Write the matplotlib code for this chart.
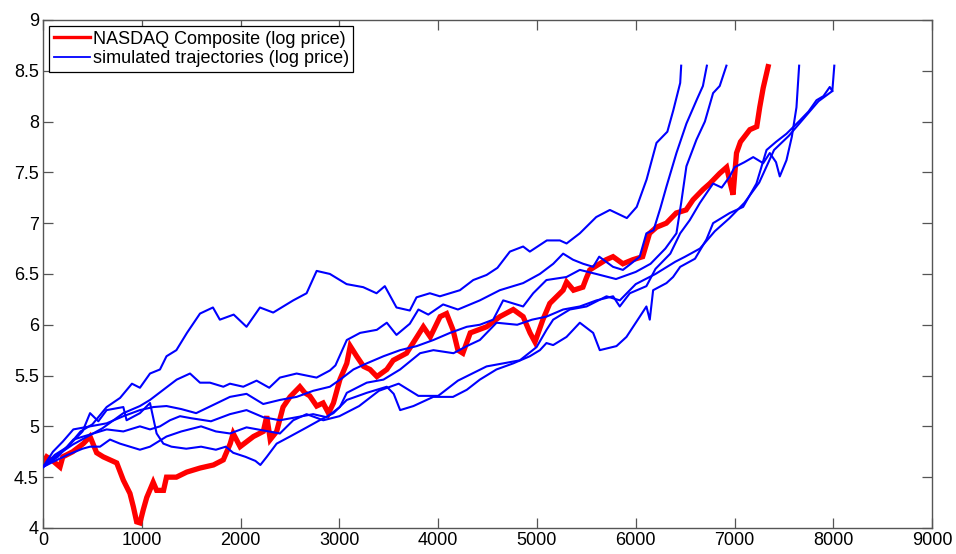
import matplotlib
matplotlib.use("Agg")
import matplotlib.pyplot as plt
from matplotlib.ticker import FormatStrFormatter, MultipleLocator

plt.rcParams["font.family"] = ["Liberation Sans", "DejaVu Sans"]

# NASDAQ Composite, log price (day index, log level)
NASDAQ_X = [0, 37, 100, 172, 200, 300, 408, 476, 543, 610, 678, 746, 813, 880,
            914, 948, 981, 1015, 1050, 1115, 1150, 1220, 1250, 1350, 1455, 1590,
            1725, 1825, 1895, 1925, 1995, 2130, 2230, 2265, 2300, 2365, 2430,
            2500, 2600, 2650, 2700, 2770, 2835, 2890, 2940, 3005, 3075, 3110,
            3175, 3245, 3310, 3380, 3480, 3545, 3680, 3785, 3850, 3920, 4020,
            4085, 4150, 4200, 4250, 4325, 4490, 4625, 4760, 4860, 4930, 4980,
            5060, 5130, 5265, 5300, 5370, 5465, 5500, 5535, 5700, 5770, 5870,
            5970, 6070, 6140, 6210, 6310, 6410, 6510, 6580, 6680, 6750, 6850,
            6920, 6950, 6985, 7020, 7060, 7155, 7225, 7255, 7290, 7340]
NASDAQ_Y = [4.64, 4.70, 4.66, 4.60, 4.70, 4.75, 4.83, 4.90, 4.74, 4.70, 4.67,
            4.64, 4.47, 4.34, 4.21, 4.06, 4.05, 4.18, 4.30, 4.45, 4.37, 4.37,
            4.50, 4.50, 4.55, 4.59, 4.62, 4.67, 4.83, 4.93, 4.80, 4.90, 4.95,
            5.10, 4.87, 4.95, 5.19, 5.29, 5.39, 5.33, 5.30, 5.20, 5.23, 5.13,
            5.23, 5.46, 5.62, 5.79, 5.69, 5.59, 5.56, 5.49, 5.56, 5.65, 5.72,
            5.88, 5.98, 5.88, 6.08, 6.11, 5.95, 5.75, 5.72, 5.92, 5.98, 6.08,
            6.15, 6.08, 5.92, 5.83, 6.05, 6.21, 6.34, 6.42, 6.34, 6.37, 6.46,
            6.54, 6.64, 6.67, 6.60, 6.64, 6.67, 6.90, 6.96, 7.00, 7.10, 7.13,
            7.23, 7.33, 7.39, 7.49, 7.55, 7.42, 7.28, 7.69, 7.80, 7.92, 7.95,
            8.14, 8.33, 8.54]

# simulated log-price paths
SIM1_X = [0, 120, 250, 380, 500, 644, 780, 900, 981, 1083, 1184, 1250, 1350,
          1457, 1589, 1720, 1790, 1930, 2060, 2196, 2330, 2533, 2668, 2770,
          2904, 3073, 3241, 3376, 3460, 3578, 3713, 3781, 3916, 4017, 4220,
          4355, 4490, 4600, 4726, 4860, 4928, 5100, 5232, 5300, 5434, 5600,
          5738, 5910, 6010, 6110, 6210, 6320, 6380, 6450, 6460]
SIM1_Y = [4.60, 4.72, 4.80, 4.95, 5.02, 5.19, 5.28, 5.42, 5.38, 5.52, 5.56,
          5.69, 5.75, 5.92, 6.11, 6.17, 6.05, 6.10, 5.98, 6.17, 6.12, 6.24,
          6.31, 6.53, 6.50, 6.40, 6.37, 6.31, 6.38, 6.17, 6.14, 6.27, 6.31,
          6.28, 6.34, 6.44, 6.49, 6.56, 6.72, 6.77, 6.72, 6.83, 6.83, 6.80,
          6.90, 7.06, 7.13, 7.05, 7.16, 7.43, 7.79, 7.90, 8.11, 8.38, 8.55]

SIM2_X = [0, 150, 300, 450, 600, 813, 981, 1083, 1218, 1353, 1488, 1589, 1690,
          1825, 1892, 2027, 2162, 2290, 2398, 2567, 2769, 2904, 2960, 3075,
          3210, 3379, 3480, 3578, 3713, 3800, 3900, 4050, 4200, 4422, 4624,
          4860, 5029, 5165, 5265, 5365, 5468, 5569, 5630, 5770, 5870, 5950,
          6040, 6108, 6180, 6250, 6311, 6412, 6513, 6620, 6680, 6720]
SIM2_Y = [4.60, 4.72, 4.82, 4.90, 4.98, 5.13, 5.20, 5.26, 5.36, 5.46, 5.52,
          5.43, 5.43, 5.39, 5.42, 5.39, 5.45, 5.38, 5.48, 5.52, 5.48, 5.55,
          5.60, 5.85, 5.92, 5.95, 6.02, 5.90, 6.01, 6.15, 6.10, 6.20, 6.15,
          6.24, 6.34, 6.41, 6.50, 6.60, 6.70, 6.64, 6.60, 6.57, 6.67, 6.57,
          6.54, 6.60, 6.67, 6.90, 6.93, 7.15, 7.36, 7.69, 7.98, 8.22, 8.35,
          8.55]

SIM3_X = [0, 100, 200, 307, 476, 644, 813, 981, 1117, 1250, 1400, 1550, 1700,
          1892, 2060, 2229, 2398, 2567, 2735, 2904, 3007, 3142, 3277, 3446,
          3615, 3783, 3952, 4120, 4290, 4422, 4557, 4658, 4860, 4962, 5096,
          5299, 5434, 5600, 5800, 6000, 6150, 6300, 6412, 6460, 6513, 6614,
          6700, 6783, 6850, 6918]
SIM3_Y = [4.60, 4.75, 4.85, 4.97, 5.00, 5.03, 5.10, 5.16, 5.19, 5.20, 5.17,
          5.13, 5.20, 5.29, 5.32, 5.22, 5.26, 5.29, 5.35, 5.39, 5.46, 5.56,
          5.62, 5.69, 5.75, 5.79, 5.85, 5.92, 5.98, 6.00, 6.05, 6.24, 6.18,
          6.31, 6.44, 6.47, 6.54, 6.50, 6.45, 6.52, 6.60, 6.75, 6.90, 7.20,
          7.56, 7.82, 8.00, 8.28, 8.35, 8.55]

SIM4_X = [0, 150, 307, 476, 644, 813, 981, 1083, 1184, 1285, 1387, 1500, 1700,
          1892, 2060, 2229, 2398, 2567, 2735, 2870, 3005, 3075, 3277, 3446,
          3615, 3817, 3952, 4155, 4290, 4422, 4591, 4800, 4950, 5096, 5265,
          5434, 5603, 5771, 5838, 5940, 6108, 6200, 6350, 6450, 6547, 6650,
          6783, 6870, 6952, 7000, 7100, 7189, 7290, 7357, 7420, 7458, 7526,
          7580, 7627, 7654]
SIM4_Y = [4.60, 4.70, 4.87, 4.92, 4.97, 4.95, 5.00, 4.97, 5.00, 5.06, 5.10,
          5.08, 5.05, 5.12, 5.16, 5.09, 5.06, 5.09, 5.12, 5.09, 5.19, 5.33,
          5.43, 5.46, 5.56, 5.72, 5.75, 5.72, 5.79, 5.85, 6.02, 6.00, 6.05,
          6.08, 6.15, 6.18, 6.24, 6.28, 6.18, 6.31, 6.38, 6.55, 6.70, 6.90,
          7.03, 7.20, 7.39, 7.35, 7.46, 7.55, 7.60, 7.65, 7.59, 7.69, 7.60,
          7.46, 7.62, 7.85, 8.14, 8.55]

SIM5_X = [0, 100, 250, 400, 476, 560, 644, 813, 846, 981, 1083, 1150, 1218,
          1300, 1450, 1600, 1750, 1850, 1925, 2050, 2150, 2200, 2265, 2365,
          2500, 2670, 2800, 2940, 3075, 3277, 3480, 3550, 3615, 3750, 3950,
          4150, 4290, 4422, 4590, 4760, 4928, 5030, 5096, 5164, 5299, 5434,
          5569, 5636, 5805, 5906, 6041, 6108, 6142, 6176, 6311, 6378, 6450,
          6600, 6716, 6783, 6952, 7087, 7222, 7324, 7420, 7526, 7661, 7750,
          7830, 7900, 7964, 7990, 8010]
SIM5_Y = [4.60, 4.68, 4.80, 4.95, 5.13, 5.05, 5.16, 5.19, 5.06, 5.13, 5.23,
          4.93, 4.83, 4.80, 4.78, 4.80, 4.77, 4.80, 4.74, 4.70, 4.66, 4.62,
          4.70, 4.83, 4.90, 4.99, 5.06, 5.13, 5.26, 5.33, 5.39, 5.32, 5.16,
          5.20, 5.29, 5.29, 5.36, 5.46, 5.56, 5.62, 5.69, 5.75, 5.82, 5.80,
          5.88, 6.02, 5.92, 5.75, 5.79, 5.88, 6.08, 6.18, 6.05, 6.34, 6.41,
          6.47, 6.57, 6.65, 6.84, 7.00, 7.10, 7.16, 7.39, 7.72, 7.80, 7.88,
          8.01, 8.10, 8.21, 8.25, 8.34, 8.30, 8.55]

SIM6_X = [0, 100, 250, 400, 476, 577, 678, 779, 880, 981, 1083, 1250, 1400,
          1600, 1750, 1892, 2060, 2229, 2398, 2533, 2668, 2837, 3000, 3200,
          3400, 3600, 3800, 4000, 4200, 4490, 4827, 4996, 5097, 5164, 5333,
          5502, 5704, 5839, 6000, 6200, 6400, 6500, 6650, 6800, 6950, 7100,
          7250, 7400, 7550, 7700, 7850, 7990]
SIM6_Y = [4.60, 4.65, 4.72, 4.78, 4.80, 4.80, 4.87, 4.83, 4.80, 4.77, 4.80,
          4.90, 4.95, 5.00, 4.95, 4.93, 4.99, 4.96, 4.93, 5.06, 5.12, 5.06,
          5.10, 5.20, 5.35, 5.42, 5.30, 5.30, 5.45, 5.59, 5.65, 5.78, 5.95,
          6.05, 6.15, 6.18, 6.28, 6.24, 6.40, 6.50, 6.62, 6.67, 6.75, 6.92,
          7.05, 7.20, 7.40, 7.72, 7.86, 8.03, 8.20, 8.30]

SIMS = [(SIM1_X, SIM1_Y), (SIM2_X, SIM2_Y), (SIM3_X, SIM3_Y),
        (SIM4_X, SIM4_Y), (SIM5_X, SIM5_Y), (SIM6_X, SIM6_Y)]

fig = plt.figure(figsize=(9.56, 5.54), dpi=100)
ax = fig.add_axes([0.045, 0.047, 0.930, 0.917])

red_line, = ax.plot(NASDAQ_X, NASDAQ_Y, color="#ff0000", lw=3.8,
                    solid_joinstyle="miter", zorder=2)
blue_line = None
for xs, ys in SIMS:
    blue_line, = ax.plot(xs, ys, color="#0000ff", lw=1.5, zorder=3)

ax.set_xlim(0, 9000)
ax.set_ylim(4, 9)
ax.xaxis.set_major_locator(MultipleLocator(1000))
ax.yaxis.set_major_locator(MultipleLocator(0.5))
ax.yaxis.set_major_formatter(FormatStrFormatter("%g"))

for s in ax.spines.values():
    s.set_color("#555555")
    s.set_linewidth(1.0)
ax.tick_params(direction="in", length=7, width=0.9, color="#555555",
               labelsize=13, top=True, right=True, pad=3)

leg = ax.legend([red_line, blue_line],
                ["NASDAQ Composite (log price)",
                 "simulated trajectories (log price)"],
                loc="upper left", fontsize=13, frameon=True, fancybox=False,
                edgecolor="black", framealpha=1, handlelength=2.0,
                handletextpad=0.15, labelspacing=0.15, borderpad=0.25,
                borderaxespad=0.35)
leg.get_frame().set_linewidth(0.9)
leg.legend_handles[0].set_linewidth(2.4)
leg.legend_handles[1].set_linewidth(1.3)

fig.savefig("out.png", dpi=100)
